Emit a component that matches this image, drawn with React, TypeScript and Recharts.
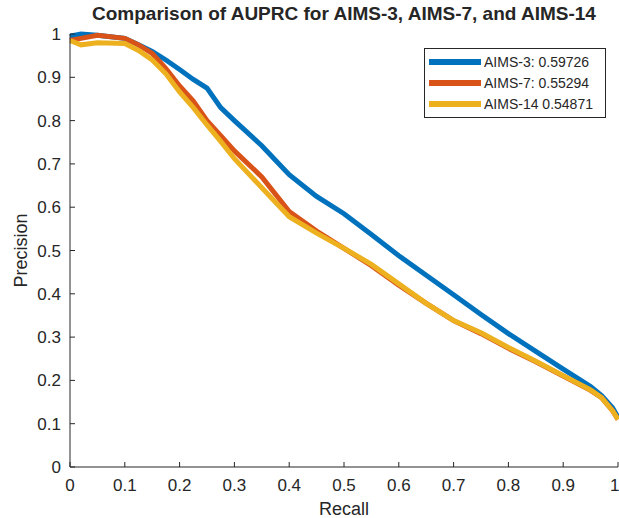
import { Line, LineChart, XAxis, YAxis } from 'recharts'

const recall = [
  0, 0.02, 0.05, 0.1, 0.125, 0.15, 0.175, 0.2, 0.225, 0.25, 0.275, 0.3, 0.35, 0.4, 0.45, 0.5, 0.55, 0.6, 0.65, 0.7,
  0.75, 0.8, 0.85, 0.9, 0.95, 0.97, 0.99, 1,
]
const aims3 = [
  0.995, 1.0, 0.997, 0.99, 0.975, 0.96, 0.94, 0.918, 0.895, 0.875, 0.83, 0.8, 0.742, 0.675, 0.625, 0.585, 0.537,
  0.488, 0.443, 0.398, 0.352, 0.308, 0.267, 0.226, 0.186, 0.165, 0.137, 0.115,
]
const aims7 = [
  0.985, 0.99, 0.997, 0.99, 0.975, 0.955, 0.92, 0.88, 0.845, 0.8, 0.765, 0.73, 0.67, 0.59, 0.545, 0.505, 0.465, 0.42,
  0.378, 0.338, 0.308, 0.274, 0.243, 0.21, 0.177, 0.16, 0.13, 0.11,
]
const aims14 = [
  0.985, 0.975, 0.98, 0.978, 0.962, 0.94, 0.908, 0.866, 0.83, 0.79, 0.752, 0.712, 0.645, 0.578, 0.54, 0.505, 0.468,
  0.423, 0.378, 0.338, 0.31, 0.276, 0.244, 0.211, 0.178, 0.16, 0.13, 0.11,
]
const ticks = [0, 0.1, 0.2, 0.3, 0.4, 0.5, 0.6, 0.7, 0.8, 0.9, 1]

const series = [
  { key: 'aims3', label: 'AIMS-3: 0.59726', color: '#0072BD' },
  { key: 'aims7', label: 'AIMS-7: 0.55294', color: '#D95319' },
  { key: 'aims14', label: 'AIMS-14 0.54871', color: '#EDB120' },
]

const data = recall.map((r, i) => ({ recall: r, aims3: aims3[i], aims7: aims7[i], aims14: aims14[i] }))

const ink = '#262626'
const font = '"Liberation Sans", Arial, sans-serif'

// legend drawn as a plain box over the chart, like MATLAB's
function LegendBox() {
  return (
    <div
      style={{
        position: 'absolute',
        left: 424,
        top: 48,
        border: `1px solid ${ink}`,
        background: '#fff',
        width: 176,
        padding: '2px 0 3px 4px',
        fontSize: 14,
        color: ink,
      }}
    >
      {series.map((s) => (
        <div key={s.key} style={{ display: 'flex', alignItems: 'center', height: 21 }}>
          <span style={{ display: 'inline-block', width: 52, height: 6, background: s.color, marginRight: 3 }} />
          <span>{s.label}</span>
        </div>
      ))}
    </div>
  )
}

export default function App() {
  return (
    <div
      style={{
        position: 'absolute',
        left: 0,
        top: 0,
        width: 619,
        height: 518,
        overflow: 'hidden',
        background: '#fff',
        fontFamily: font,
      }}
    >
      <div
        style={{
          position: 'absolute',
          left: 70,
          width: 548,
          top: 3,
          textAlign: 'center',
          fontWeight: 'bold',
          fontSize: 19,
          color: ink,
        }}
      >
        Comparison of AUPRC for AIMS-3, AIMS-7, and AIMS-14
      </div>
      <LineChart width={619} height={518} data={data} margin={{ top: 34, right: 1, left: 30, bottom: 1 }}>
        <XAxis
          dataKey="recall"
          type="number"
          domain={[0, 1]}
          ticks={ticks}
          tickFormatter={(v) => `${v}`}
          height={50}
          tickSize={-5}
          tickMargin={17}
          stroke={ink}
          tick={{ fill: ink, fontSize: 17 }}
          label={{
            content: ({ viewBox }: any) => (
              <text
                x={viewBox.x + viewBox.width / 2}
                y={viewBox.y + 48}
                textAnchor="middle"
                fontSize={18}
                fill={ink}
              >
                Recall
              </text>
            ),
          }}
        />
        <XAxis
          xAxisId="top"
          orientation="top"
          dataKey="recall"
          type="number"
          domain={[0, 1]}
          ticks={ticks}
          height={0}
          tick={false}
          tickSize={-5}
          stroke={ink}
        />
        <YAxis
          type="number"
          domain={[0, 1]}
          ticks={ticks}
          tickFormatter={(v) => `${v}`}
          width={40}
          tickSize={-5}
          tickMargin={14}
          stroke={ink}
          tick={{ fill: ink, fontSize: 17 }}
          label={{
            content: ({ viewBox }: any) => {
              const cx = 22
              const cy = viewBox.y + viewBox.height / 2
              return (
                <text
                  x={cx}
                  y={cy}
                  transform={`rotate(-90 ${cx} ${cy})`}
                  textAnchor="middle"
                  dominantBaseline="middle"
                  fontSize={18}
                  fill={ink}
                >
                  Precision
                </text>
              )
            },
          }}
        />
        <YAxis
          yAxisId="right"
          orientation="right"
          type="number"
          domain={[0, 1]}
          ticks={ticks}
          width={0}
          tick={false}
          tickSize={-5}
          stroke={ink}
        />
        {series.map((s) => (
          <Line
            key={s.key}
            dataKey={s.key}
            name={s.label}
            type="linear"
            stroke={s.color}
            strokeWidth={5}
            dot={false}
            isAnimationActive={false}
          />
        ))}
      </LineChart>
      <LegendBox />
    </div>
  )
}
